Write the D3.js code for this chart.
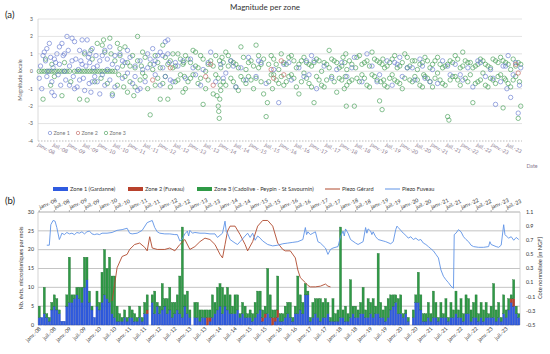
<!DOCTYPE html>
<html><head><meta charset="utf-8">
<script src="https://cdn.jsdelivr.net/npm/d3@7"></script>
<style>body{margin:0;background:#fff}svg{font-family:Lato,"Liberation Sans",Arial,sans-serif}</style>
</head><body>
<script>
const N = 192; // months from janv.-08
const tickLabels = ["janv.-08","juil.-08","janv.-09","juil.-09","janv.-10","juil.-10","janv.-11","juil.-11","janv.-12","juil.-12","janv.-13","juil.-13","janv.-14","juil.-14","janv.-15","juil.-15","janv.-16","juil.-16","janv.-17","juil.-17","janv.-18","juil.-18","janv.-19","juil.-19","janv.-20","juil.-20","janv.-21","juil.-21","janv.-22","juil.-22","janv.-23","juil.-23"];

const zone1Counts = [2,2,3,2,1,4,5,4,3,1, 1,5,6,6,7,8,7,6,10,12, 6,4,2,5,4,6,8,7,6,3, 2,1,1,1,2,1,2,2,1,1,
 2,1,3,3,0,6,3,5,3,4, 5,3,4,2,3,4,3,2,5,3, 2,0,2,2,1,2,2,0,1,2, 3,4,5,3,5,4,3,3,3,4, 2,3,2,2,2,1,2,3,4,1,
 2,3,2,0,1,2,1,1,2,3, 2,1,3,3,4,3,8,8,1,2, 3,2,1,2,2,3,1,1,1,1, 2,2,1,1,2,3,2,2,3,3, 2,2,3,2,3,3,2,2,1,2,
 4,5,6,3,3,2,3,1,0,2, 6,6,4,1,1,2,1,2,2,1, 2,2,2,1,2,2,3,2,2,1, 3,3,1,2,2,1,2,1,2,2, 2,2,1,2,1,3,2,4,6,5, 3,2];
const zone2Counts = [0,0,0,0,0,0,0,0,0,0, 0,0,0,0,0,0,0,0,0,0, 0,0,0,0,0,0,0,0,0,0, 0,0,0,0,0,0,0,0,0,0,
 0,0,0,1,0,0,0,0,0,0, 0,0,0,0,0,0,0,0,0,0, 0,0,0,0,0,0,0,2,1,0, 0,0,0,0,0,0,0,0,0,0, 0,0,0,0,0,0,0,0,0,1,
 1,0,0,2,1,2,0,0,0,0, 0,0,0,0,0,0,0,0,0,0, 0,0,0,0,0,0,0,0,0,0, 0,0,0,0,0,0,0,0,0,0, 0,0,0,0,0,0,0,0,0,0,
 0,0,0,0,0,0,0,0,0,0, 0,0,0,0,0,0,0,0,0,0, 0,0,0,0,0,0,0,0,0,0, 0,0,0,0,0,0,0,0,0,0, 0,0,0,0,0,0,0,0,1,2, 0,0];
const zone3Counts = [3,0,7,1,1,2,3,3,1,0, 0,3,12,2,1,2,3,4,8,6, 3,1,0,4,2,8,12,8,12,10, 11,4,2,1,2,1,3,2,2,1,
 3,1,3,4,0,2,6,1,2,7, 2,4,6,4,3,4,10,24,3,6, 2,0,4,4,3,2,2,2,2,6, 3,6,6,7,3,6,5,2,5,4, 1,3,3,1,2,2,4,6,5,2,
 2,12,6,2,2,9,2,2,3,3, 4,1,2,10,4,3,3,1,1,4, 4,5,6,4,5,3,1,6,2,3, 24,2,4,2,10,2,3,2,3,7, 2,5,3,5,2,16,4,2,4,5,
 4,3,2,4,5,1,1,1,0,2, 2,8,4,2,2,4,2,7,4,1, 4,1,5,1,4,2,6,2,5,2, 5,4,3,4,6,2,4,3,4,1, 3,9,3,4,1,5,2,3,1,5, 2,1];

// Piezometers: [month, cote normalisée m NGF]
const piezoFuveau = [[3,0.63],[4,0.63],[4.6,0.92],[5.5,0.98],[6.3,0.97],[7,0.88],[8,0.71],[8.5,0.75],[9,0.80],[10,0.78],[11,0.81],[12,0.79],[13,0.80],[14,0.78],[15,0.81],[16,0.80],[17,0.82],[18,0.79],[19,0.82],[20,0.83],[21,0.79],[22,0.78],[23,0.79],[24,0.78],[25,0.80],[27,0.80],[29,0.81],[31,0.84],[33,0.85],[35,0.87],[36,0.80],[37,0.79],[39,0.80],[41,0.84],[43,0.95],[45,0.98],[46,0.88],[47,0.82],[48,0.80],[50,0.79],[52,0.79],[54,0.78],[55,0.78],[56,0.69],[57,0.72],[58,0.79],[59,0.83],[59.5,0.76],[60,0.84],[61,0.80],[62,0.81],[64,0.80],[66,0.80],[68,0.79],[70,0.79],[71,0.74],[72,0.77],[73,0.80],[74,0.97],[74.5,0.82],[75,0.80],[76,0.71],[78,0.66],[79,0.64],[80,0.68],[81,0.72],[82,0.76],[83,0.80],[84,0.74],[85,0.80],[86,0.70],[87,0.76],[88,0.73],[89,0.69],[91,0.64],[93,0.62],[95,0.63],[97,0.65],[99,0.66],[101,0.67],[103,0.68],[105,0.71],[106,0.88],[106.5,0.78],[107,0.82],[108,0.78],[109,0.80],[110,0.82],[111,0.68],[112,0.66],[114,0.59],[115,0.50],[116,0.57],[117,0.59],[119,0.61],[120,0.75],[121,0.83],[121.5,0.76],[122,0.86],[123,0.80],[124,0.71],[126,0.66],[127,0.64],[129,0.68],[130,0.88],[130.5,0.80],[131,0.86],[132,0.83],[132.5,0.78],[133,0.82],[134,0.75],[135,0.71],[137,0.69],[138,0.68],[140,0.65],[141,0.68],[142,0.85],[142.5,0.90],[143,0.88],[144,0.84],[145,0.80],[146,0.77],[147,0.73],[148,0.75],[149,0.71],[150,0.73],[151,0.70],[152,0.71],[153,0.66],[154,0.64],[155,0.61],[156,0.58],[157,0.55],[158,0.50],[159,0.45],[160,0.28],[161,0.19],[162,0.14],[163,0.10],[164,0.05],[165,0.02],[165.3,0.78],[166,0.80],[167,0.85],[168,0.82],[169,0.75],[170,0.71],[171,0.68],[172,0.63],[173,0.61],[175,0.60],[177,0.60],[179,0.61],[179.5,0.68],[180,0.64],[182,0.61],[183,0.60],[184,0.63],[185,0.92],[185.5,0.78],[186,0.76],[187,0.73],[188,0.75],[189,0.70],[190,0.74],[191,0.71]];
const piezoGerard = [[29,-0.16],[30,0.07],[31,0.31],[33,0.47],[35,0.50],[36,0.57],[38,0.64],[40,0.66],[42,0.60],[43,0.55],[44,0.75],[45,0.59],[47,0.57],[50,0.57],[52,0.59],[54,0.55],[56,0.64],[58,0.71],[60,0.57],[62,0.61],[64,0.68],[66,0.73],[68,0.71],[70,0.64],[72,0.50],[73,0.45],[74,0.64],[75,0.83],[76,0.90],[78,0.90],[80,0.78],[82,0.64],[83,0.55],[85,0.68],[87,0.90],[89,0.98],[91,0.98],[93,0.90],[95,0.66],[97,0.57],[98,0.55],[100,0.55],[102,0.45],[103,0.28],[104,0.17],[106,0.10],[107,0.06],[108,0.04],[110,0.04],[112,0.05],[114,0.08],[115,0.05],[116,0.04]];

// Magnitudes: [month, magnitude]
const zone1Mags = [[0,-0.4],[0.5,0.3],[1,-1.0],[2,1.1],[2.5,0.6],[3,-0.3],[3.5,0],[4,1.6],[4.5,0.8],[5,-0.6],[5.5,0.2],[6,-1.4],[6.5,0.5],[7,1.0],[7.5,-0.2],[8,0.4],[8.5,-0.8],[9,1.6],[9.5,0.9],[10,0],[10.5,-0.5],[11,2.0],[11.5,1.2],[12,0.3],
[13,1.9],[13.5,-0.3],[14,1.7],[14.5,0.7],[15,-0.9],[15.5,0.1],[16,1.2],[16.5,0.6],[17,1.8],[17.5,-0.4],[18,1.1],[18.5,0.3],[19,1.8],[19.5,0.8],[19.8,-0.7],[20,0.5],[20.5,-1.2],[21,1.3],[21.5,0.2],[22,-0.3],[22.5,0.9],[23,-0.6],[24,0.6],[25,-0.2],[26,1.2],[27,0.7],[28,-0.5],[29,0.4],[30,-0.9],[31,0.2],
[32,1.0],[33,-0.4],[34,0.5],[35,-0.1],[36,0.8],[37,-0.7],[38,0.3],[39,-1.1],[40,0.6],[41,0.1],[42,-0.6],[43,1.0],[44,0.7],[45,1.3],[45.5,0.4],[46,-0.2],[47,0.9],[48,1.1],[49,0.2],[50,1.7],[51,1.8],[51.5,0.5],[52,-0.5],
[55,0.3],[58,-0.4],[60,0.7],[62,-0.2],[65,0.1],[68,1.1],[70,-0.6],[72,0.4],[74,-0.1],[76,0.6],[78,-0.9],[80,0.2],[83,0.8],[86,-0.3],[88,0.5],[90,-0.7],[93,0.1],[95,-1.8],[97,0.4],[100,-0.5],[103,0.2],[106,0.6],[107,-0.2],[108,0.9],[110,-1.0],[113,0.3],[116,-0.4],[118,0.1],[120,0.5],[122,-0.3],[125,0.8],[128,-0.6],[130,1.0],[132,0.3],[135,-0.2],[138,0.6],[140,-0.8],[142,0.4],[143,0.8],[144,-0.3],[146,0.2],[149,-0.5],[151,0.7],[152,0.3],[153,-0.4],[156,0.1],[158,-0.7],[160,0.6],[163,-0.2],[165,0.4],[168,-0.5],[170,0.2],[172,-0.9],[175,0.5],[177,-0.3],[179,0.1],[181,-1.9],[183,-0.6],[185,0.3],[185.5,-1.0],[186,0.9],[187,-1.5],[188,-0.2],[189,0.5],[190,-2.4],[190.5,-0.8],[191,0.2],
[1.5,0.9],[3,1.3],[5,-1.2],[6,0.7],[8,1.4],[10,1.0],[12,-0.8],[13,0.6],[14,-1.0],[16,-0.5],[17,0.4],[18,-1.1],[20,1.0],[21,-0.6],[23,0.3],[24,-1.3],[25,0.9],[26,-0.8],[27,0.1],[28,1.4],[29,-1.4],[30,0.9],[33,0.6],[35,1.2],[38,-0.3],[40,-1.0],[43,0.2],[46,0.6],[48,-0.8],[49,0.9],[50,-0.3],[51,1.0],[53,-0.6],[54,0.5],[57,0.6],[61,0.2],[64,-0.8],[67,0.5],[73,-0.4],[77,0.3],[82,-0.5],[87,0.6],[99,0.5],[105,-0.3],[109,0.6],[124,0.2],[134,-0.6],[141,0.5],[148,0.2],[155,-0.6],[162,0.3],[167,-0.2],[174,0.6],[180,-0.4],[184,0.3]];
const zone2Mags = [[45,-0.5],[52,0.2],[66,-0.3],[68,0.4],[69,-0.8],[92,0.1],[93,-0.4],[96,0.6],[97,-0.2],[189,0.4],[190,-0.1]];
const zone3Mags = [[0,0],[1,0],[2,0],[3,0],[4,0],[5,0],[6,0],[7,0],[8,0],[9,0],[10,0],[11,0],[12,0],[14,0],[15,0],[16,0],[17,0],[18,0],[19,0],[20,0],[21,0],[22,0],[23,0],[24,0],[25,0],[26,0],[27,0],[28,0],[29,0],[30,0],
[1.5,-1.6],[2.5,0.7],[4.5,-0.8],[5,0.4],[6,-0.3],[9,-1.4],[10,0.5],[12.5,-0.6],[16,-1.6],[18,1.0],[19,-1.65],[20.5,1.2],[21,0.7],[22,-0.6],[23,1.6],[24.5,-0.4],[25,1.5],[25.5,1.8],[26,1.1],[27,-0.7],[28,1.9],[28.5,1.0],[29,-1.3],[30,0.6],[31,1.6],[31.5,-0.2],[32,1.3],[33,0.3],[33.5,-0.9],[34,-0.3],[35,0.5],[36,-0.6],[37,0.9],[37.5,-1.4],[38,0.2],[39,2.0],[40,-0.5],[40.5,0.3],[41,-0.1],[42,0.8],[43,-1.0],[44,-2.5],[45,0.1],[46,-0.8],[47,0.5],[48,-1.6],[49,1.5],[50,-0.3],[51,-1.6],[52,0.6],[53,0.2],[54,-0.6],[55,1.0],[56,-0.2],[57,0.4],[58,-1.0],[59,0.7],[60,-0.4],[61,1.2],[62,0.3],[63,-0.7],[64,0.9],[65,-1.9],[66,0.0],[67,-0.5],[68,0.6],[69,-1.3],[70,-0.2],[70.5,-1.4],[71,-2.0],[71.2,-2.3],[71.4,-2.7],[71.6,-1.6],[71.8,-0.8],[72,0.2],[72.5,0.8],[73,-0.6],[74,1.1],[75,0.3],[76,-0.4],[77,0.5],[78,-0.9],[79,0.2],[80,1.4],[81,-0.5],[82,0.1],[83,-0.3],[84,0.6],[85,-1.0],[86,1.5],[87,0.2],[88,-0.6],[89,-1.3],[90,-2.6],[90.5,-1.8],[91,0.4],[92,-0.2],[93,0.7],[94,-0.5],[95,0.1],[96,1.0],[97,-0.8],[98,0.4],[99,-0.3],[100,0.9],[101,-0.4],[102,0.2],[103,-1.3],[104,0.6],[105,-0.1],[106,0.5],[107,-0.7],[108,0.3],[109,-1.8],[110,0.7],[111,-0.5],[112,0.0],[113,-0.9],[114,0.4],[115,1.2],[116,-0.3],[117,0.6],[118,-1.2],[119,0.2],[120,-0.5],[120.5,0.8],[121,-1.0],[121.2,0.5],[121.4,-0.3],[121.6,1.0],[121.8,-2.0],[122,0.1],[123,-0.6],[124,0.4],[125,-2.0],[125.5,0.2],[126,-0.4],[127,0.9],[128,-0.2],[129,0.5],[130,-0.8],[131,0.3],[132,1.1],[133,-0.3],[134,0.6],[135,-1.7],[136,-2.2],[136.3,0.7],[136.6,-0.5],[137,0.2],[138,-0.9],[139,0.5],[140,-0.2],[141,0.9],[142,-0.6],[143,0.3],[144,-1.0],[145,1.0],[146,0.2],[147,-0.5],[148,0.6],[149,-0.3],[150,0.1],[151,-0.8],[152,0.5],[152.5,-0.2],[153,0.8],[154,-0.4],[155,0.2],[156,-0.9],[157,0.6],[158,-0.1],[159,0.4],[160,-0.7],[161,0.3],[162,-2.6],[162.5,-2.8],[163,0.6],[164,-0.3],[165,0.9],[166,-0.5],[167,0.2],[168,1.1],[169,-0.4],[170,0.5],[171,-0.2],[172,-1.8],[173,0.3],[174,-0.6],[175,0.7],[176,-0.1],[177,0.4],[178,-0.9],[179,0.2],[180,-0.5],[181,0.6],[182,-0.3],[183,0.8],[184,-2.1],[184.5,-0.4],[185,0.5],[186,-0.7],[187,0.1],[188,-0.5],[189,0.3],[190,-2.7],[190.5,-0.6],[191,-2.0],
[31,-0.8],[32,0.9],[34,1.4],[35,-1.2],[36,0.3],[38,-0.9],[39,0.6],[41,1.1],[42,-0.3],[44,0.4],[46,0.9],[47,-0.4],[48,0.2],[49,-0.7],[50,0.8],[51,0.4],[52,-0.9],[53,1.0],[54,0.3],[55,-0.5],[56,0.7],[57,-1.2],[57.3,0.5],[57.6,-0.3],[58,0.9],[59,-0.6],[60,0.5],[61,-0.2],[62,1.1],[63,0.2],[64,-0.4],[65,0.7],[66,-1.0],[67,0.4],[69,0.3],[70,0.9],[71,-0.4],[71.5,0.6],[72,-1.1],[73,0.5],[74,-0.8],[75,0.9],[76,0.6],[77,-0.6],[78,0.4],[79,-1.1],[80,-0.3],[81,0.8],[82,-0.7],[83,0.5],[84,-0.5],[85,0.3],[86,-0.4],[87,0.9],[88,0.4],[89,0.7],[91,-0.6],[92,0.9],[92.5,-1.0],[93,-0.2],[94,0.4],[95,-0.7],[96,-0.3],[97,0.5],[98,-0.6],[99,0.8],[100,-0.2],[101,0.6],[102,-0.9],[103,0.4],[104,-0.6],[105,0.8],[106,-0.4],[107,0.4],[108,-0.9],[109,0.5],[110,-0.3],[111,0.6],[112,-0.8],[113,0.5],[114,-0.5],[115,0.2],[116,0.7],[117,-0.6],[118,0.5],[119,-0.4],[120,0.3],[122,-0.8],[123,0.6],[124,-0.5],[126,0.8],[127,-0.6],[128,0.4],[129,-0.4],[130,0.6],[131,-0.9],[132,-0.2],[133,0.7],[134,-0.5],[135,0.5],[135.5,-0.6],[136,0.4],[137,-0.8],[138,0.3],[139,-0.4],[140,0.7],[141,-0.5],[142,0.2],[143,-0.7],[144,0.5],[145,-0.4],[146,0.8],[147,0.3],[148,-0.6],[149,0.6],[150,-0.5],[151,0.4],[152,-0.9],[153,-0.3],[154,0.6],[155,-0.6],[156,0.4],[157,-0.4],[158,0.8],[159,-0.5],[160,0.2],[161,-0.8],[162,0.4],[163,-0.5],[164,0.5],[165,-0.3],[166,0.7],[167,-0.8],[168,0.3],[169,0.6],[170,-0.6],[171,0.5],[172,0.2],[173,-0.7],[174,0.4],[175,-0.5],[176,0.6],[177,-0.8],[178,0.3],[179,-0.4],[180,0.7],[181,-0.7],[182,0.5],[183,-0.2],[184,0.6],[185,-0.5],[186,0.4],[187,-0.9],[188,0.7],[189,-0.3],[190,0.5],[191,0.4]];

const magTicks = [3,2,1,0,-1,-2,-3,-4];
const countTicks = [0,5,10,15,20,25,30];
const coteTicks = [-0.5,-0.3,-0.1,0.1,0.3,0.5,0.7,0.9,1.1];

const C = {z1:"#2f5be0", z2:"#b8412c", z3:"#2f9a46", z1s:"#6378cf", z3s:"#3f9a52", z2s:"#c0605a", ger:"#b04a2e", fuv:"#5f93e6", txt:"#595959"};

const W = 550, H = 354;
const svg = d3.select("body").append("svg").attr("width", W).attr("height", H);

// ---------- Panel (a)
const xa = d3.scaleLinear().domain([-0.5, N - 0.5]).range([38, 522]);
const ya = d3.scaleLinear().domain([-4, 3]).range([141, 19]);
const ga = svg.append("g");
ga.append("text").attr("x", 5).attr("y", 18).attr("font-size", 9.5).attr("fill", "#222").text("(a)");
ga.append("text").attr("x", 265).attr("y", 10).attr("text-anchor", "middle").attr("font-size", 8).attr("fill", "#333").text("Magnitude per zone");
ga.selectAll("line.g").data(magTicks.filter(d => d > -4)).join("line")
  .attr("x1", 38).attr("x2", 522).attr("y1", d => ya(d)).attr("y2", d => ya(d))
  .attr("stroke", "#dcdcdc").attr("stroke-width", 0.8);
ga.append("line").attr("x1", 38).attr("x2", 522).attr("y1", ya(-4)).attr("y2", ya(-4))
  .attr("stroke", "#aaa").attr("stroke-width", 0.8).attr("stroke-dasharray", "1.5,1.5");
ga.append("line").attr("x1", 38).attr("x2", 38).attr("y1", ya(3)).attr("y2", ya(-4)).attr("stroke", "#d0d0d0").attr("stroke-width", 0.8);
ga.selectAll("text.yt").data(magTicks).join("text")
  .attr("x", 33).attr("y", d => ya(d) + 1.8).attr("text-anchor", "end").attr("font-size", 5).attr("fill", C.txt).text(d => d);
ga.append("text").attr("transform", `translate(22,${ya(-0.5)}) rotate(-90)`).attr("text-anchor", "middle")
  .attr("font-size", 5.5).attr("fill", C.txt).text("Magnitude locale");
ga.selectAll("text.xt").data(tickLabels).join("text")
  .attr("transform", (d, i) => `translate(${xa(i * 6) - 2},${ya(-4) + 5}) rotate(28)`)
  .attr("font-size", 5.3).attr("fill", "#8a7a90").text(d => d);
ga.append("text").attr("x", 532).attr("y", 168).attr("text-anchor", "middle").attr("font-size", 5.3).attr("fill", "#8a7a90").text("Date");

function scatter(data, col) {
  ga.append("g").selectAll("circle").data(data).join("circle")
    .attr("cx", d => xa(d[0])).attr("cy", d => ya(d[1])).attr("r", 2.2)
    .attr("fill", "none").attr("stroke", col).attr("stroke-width", 0.7).attr("stroke-opacity", 0.9);
}
scatter(zone3Mags, C.z3s);
scatter(zone1Mags, C.z1s);
scatter(zone2Mags, C.z2s);

const legA = [["Zone 1", C.z1s], ["Zone 2", C.z2s], ["Zone 3", C.z3s]];
legA.forEach(([t, c], i) => {
  const x0 = 50 + i * 28;
  ga.append("circle").attr("cx", x0).attr("cy", 133).attr("r", 1.7).attr("fill", "none").attr("stroke", c).attr("stroke-width", 0.6);
  ga.append("text").attr("x", x0 + 3.5).attr("y", 135).attr("font-size", 5.3).attr("fill", "#777").text(t);
});

// ---------- Panel (b)
const xb = d3.scaleLinear().domain([-0.5, N - 0.5]).range([38, 520]);
const yL = d3.scaleLinear().domain([0, 30]).range([325, 212]);
const yR = d3.scaleLinear().domain([-0.5, 1.1]).range([325, 212]);
const gb = svg.append("g");
gb.append("text").attr("x", 5).attr("y", 204).attr("font-size", 9.5).attr("fill", "#222").text("(b)");

const legB = [
  {t: "Zone 1 (Gardanne)", c: C.z1, x: 53, type: "bar"},
  {t: "Zone 2 (Fuveau)", c: C.z2, x: 128, type: "bar"},
  {t: "Zone 3 (Cadolive - Peypin - St Savournin)", c: C.z3, x: 197, type: "bar"},
  {t: "Piezo Gérard", c: C.ger, x: 325, type: "line"},
  {t: "Piezo Fuveau", c: C.fuv, x: 385, type: "line"}];
legB.forEach(l => {
  if (l.type === "bar") gb.append("rect").attr("x", l.x).attr("y", 187).attr("width", 15).attr("height", 4).attr("fill", l.c);
  else gb.append("line").attr("x1", l.x).attr("x2", l.x + 15).attr("y1", 189).attr("y2", 189).attr("stroke", l.c).attr("stroke-width", 1);
  gb.append("text").attr("x", l.x + 17).attr("y", 191).attr("font-size", 5.6).attr("fill", "#333").text(l.t);
});

gb.selectAll("line.g").data(countTicks).join("line")
  .attr("x1", 38).attr("x2", 520).attr("y1", d => yL(d)).attr("y2", d => yL(d))
  .attr("stroke", d => d === 30 ? "#9a9a9a" : "#b5b5b5").attr("stroke-width", 0.8);
gb.append("line").attr("x1", 38).attr("x2", 38).attr("y1", 212).attr("y2", 325).attr("stroke", "#c8c8c8").attr("stroke-width", 0.8);
gb.append("line").attr("x1", 520).attr("x2", 520).attr("y1", 212).attr("y2", 325).attr("stroke", "#c8c8c8").attr("stroke-width", 0.8);

gb.selectAll("line.tt").data(tickLabels).join("line")
  .attr("x1", (d, i) => xb(i * 6)).attr("x2", (d, i) => xb(i * 6)).attr("y1", 210).attr("y2", 212)
  .attr("stroke", "#888").attr("stroke-width", 0.6);
gb.selectAll("text.tt").data(tickLabels).join("text")
  .attr("transform", (d, i) => `translate(${xb(i * 6) + 1},${209}) rotate(-24)`)
  .attr("font-size", 5.3).attr("fill", "#333").text(d => d);
gb.selectAll("text.bt").data(tickLabels).join("text")
  .attr("transform", (d, i) => `translate(${xb(i * 6) + 2},${329}) rotate(-45)`).attr("text-anchor", "end")
  .attr("font-size", 5.3).attr("fill", "#333").text(d => d);
gb.selectAll("text.yl").data(countTicks).join("text")
  .attr("x", 34).attr("y", d => yL(d) + 1.8).attr("text-anchor", "end").attr("font-size", 5.3).attr("fill", "#333").text(d => d);
gb.selectAll("text.yr").data(coteTicks).join("text")
  .attr("x", 526).attr("y", d => yR(d) + 1.8).attr("font-size", 5.3).attr("fill", "#333").text(d => d);
gb.append("text").attr("transform", `translate(23,268) rotate(-90)`).attr("text-anchor", "middle")
  .attr("font-size", 5.6).attr("fill", "#333").text("Nb. évts. microsismiques par mois");
gb.append("text").attr("transform", `translate(542,268) rotate(-90)`).attr("text-anchor", "middle")
  .attr("font-size", 5.6).attr("fill", "#333").text("Cote normalisée [m NGF]");

const stackData = d3.range(N).map(i => ({i, z1: zone1Counts[i], z2: zone2Counts[i], z3: zone3Counts[i]}));
const series = d3.stack().keys(["z1", "z2", "z3"])(stackData);
const fills = {z1: C.z1, z2: C.z2, z3: C.z3};
const strokes = {z1: "#2446b0", z2: "#8a2f1f", z3: "#1f6e30"};
const bw = xb(0.42) - xb(-0.42);
gb.append("g").selectAll("g").data(series).join("g")
  .attr("fill", s => fills[s.key]).attr("stroke", s => strokes[s.key]).attr("stroke-width", 0.35)
  .selectAll("rect").data(s => s.filter(d => d[1] > d[0])).join("rect")
  .attr("x", d => xb(d.data.i) - bw / 2).attr("width", bw)
  .attr("y", d => yL(d[1])).attr("height", d => yL(d[0]) - yL(d[1]));

const line = d3.line().x(d => xb(d[0])).y(d => yR(d[1]));
gb.append("path").datum(piezoGerard).attr("d", line).attr("fill", "none").attr("stroke", C.ger).attr("stroke-width", 0.9);
gb.append("path").datum(piezoFuveau).attr("d", line).attr("fill", "none").attr("stroke", C.fuv).attr("stroke-width", 0.9);
</script>
</body></html>
